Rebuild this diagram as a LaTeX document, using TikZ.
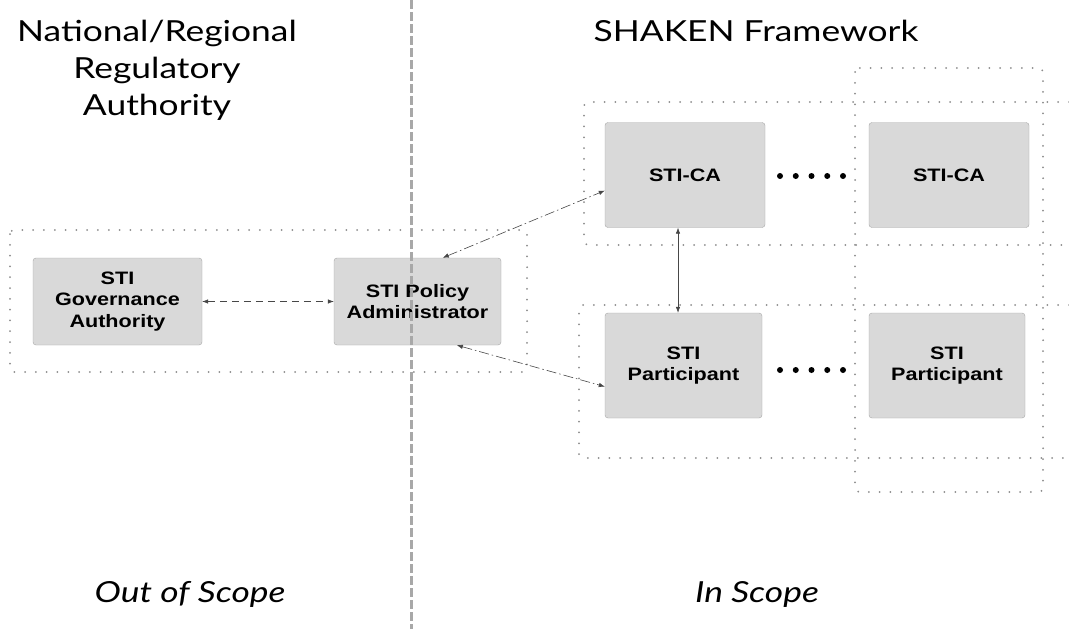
\documentclass[tikz,border=0pt]{standalone}
\usepackage{fontspec}
\setmainfont{Lato}[FakeStretch=1.22]
\newfontfamily\boxfont{Liberation Sans}[FakeStretch=1.2]
\usetikzlibrary{arrows.meta}
\definecolor{boxgray}{HTML}{D9D9D9}
\definecolor{edgegray}{HTML}{A8A8A8}
\definecolor{dotgray}{HTML}{8C8C8C}
\definecolor{arrgray}{HTML}{474747}
\begin{document}
\begin{tikzpicture}
        [x=1pt,y=-1pt,
        blk/.style ={draw=edgegray,fill=boxgray,rounded corners=3pt,minimum width=160pt,minimum height=105pt,align=center,font=\boxfont\bfseries\fontsize{18}{21.5}\selectfont},
        grp/.style ={draw=dotgray,line width=2pt,dash pattern=on 0pt off 10.8pt,line cap=round,rounded corners=4pt},
        link/.style ={arrgray,line width=0.6pt,{Latex[length=6pt,width=4.5pt]}-{Latex[length=6pt,width=4.5pt]}},
        title/.style ={align=center,anchor=north,inner sep=0pt,font=\fontsize{29}{37}\selectfont}]
        \path[use as bounding box,fill=white] (0,0) rectangle (1069,629);
        \node[title] (nra) at (157,20) {National/Regional\\Regulatory\\Authority};
        \node[title] (shk) at (756,20) {SHAKEN Framework};
        \node[title,font=\itshape\fontsize{29}{37}\selectfont] (out) at (190,581) {Out of Scope};
        \node[title,font=\itshape\fontsize{29}{37}\selectfont] (ins) at (757,581) {In Scope};
        \node[blk,minimum width=169pt,minimum height=87pt] (gov) at (117.5,301.5) {STI\\Governance\\Authority};
        \node[blk,minimum width=167pt,minimum height=87pt] (pa) at (417.5,301.5) {STI Policy\\Administrator};
        \node[blk] (ca1) at (685,175) {STI-CA};
        \node[blk] (ca2) at (949,175) {STI-CA};
        \node[blk,minimum width=157pt] (p1) at (683.5,365.5) {STI\\Participant};
        \node[blk,minimum width=156pt] (p2) at (947,365.5) {STI\\Participant};
        % dotted groups
        \draw[grp] (10,230) rectangle (527,372);
        \draw[grp] (1069,102) -- (584,102) -- (584,245) -- (1069,245);
        \draw[grp] (1069,305) -- (579,305) -- (579,458) -- (1069,458);
        \draw[grp] (855,68) rectangle (1043,492);
        \foreach \x in {0,...,4} {
            \fill (780+\x*15.75,176) circle (3pt);
            \fill (780+\x*15.75,370) circle (3pt);
        }
        \draw[link,dash pattern=on 7pt off 5pt] (gov) to (pa);
        \draw[link,dash pattern=on 10pt off 3pt on 1.5pt off 3pt] (pa.60) to (ca1.191);
        \draw[link,dash pattern=on 10pt off 3pt on 1.5pt off 3pt] (pa.-48) to (p1.195);
        \draw[link] ([xshift=-7pt]ca1.south) to ([xshift=-7pt]ca1.south |- p1.north);
        \draw[edgegray,line width=3pt,dash pattern=on 9pt off 3pt] (411,0) -- (411,629);
    \end{tikzpicture}
\end{document}
